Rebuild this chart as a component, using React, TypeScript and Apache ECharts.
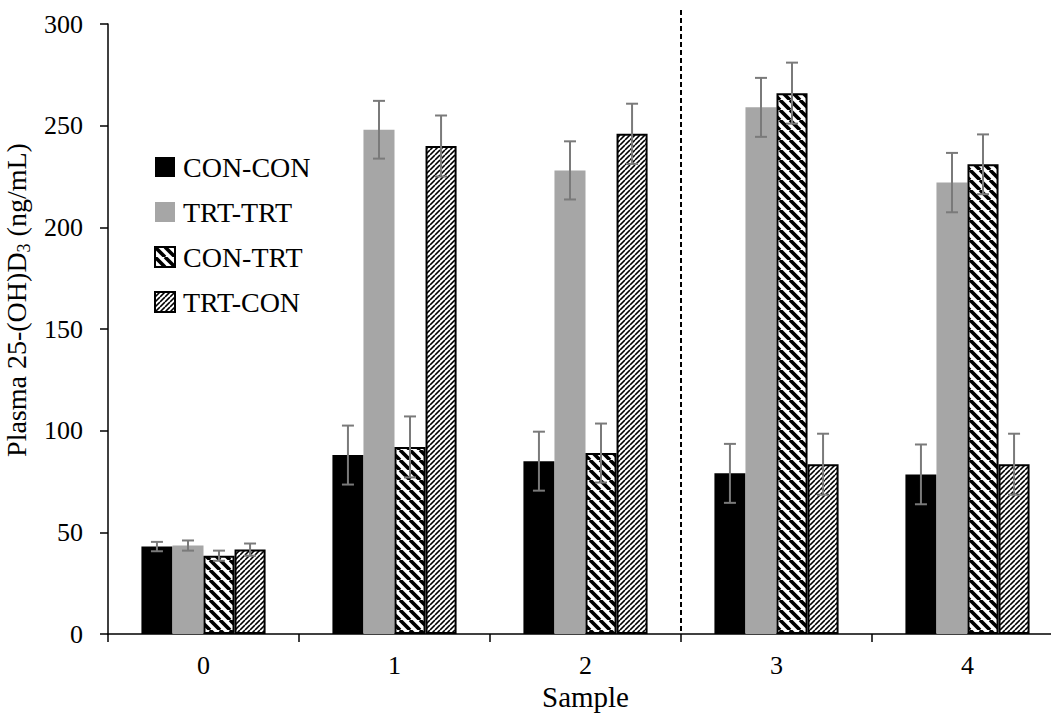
import React, { useEffect, useRef } from 'react';
import * as echarts from 'echarts';

const categories = ['0', '1', '2', '3', '4'];
const seriesNames = ['CON-CON', 'TRT-TRT', 'CON-TRT', 'TRT-CON'];

const conCon = [43, 88, 85, 79, 78.5];
const trtTrt = [43.5, 248, 228, 259, 222];
const conTrt = [38.5, 92, 89, 266, 231];
const trtCon = [41.5, 240, 246, 83.5, 83.5];

const conConErr = [2.3, 14.5, 14.5, 14.5, 14.7];
const trtTrtErr = [2.5, 14.2, 14.3, 14.5, 14.6];
const conTrtErr = [2.5, 15, 14.5, 15, 14.7];
const trtConErr = [3, 15, 14.8, 15, 15];

const yMin = 0;
const yMax = 300;
const yInterval = 50;

const FONT = '"Liberation Serif", "Times New Roman", serif';

function stripePattern(period: number, lineWidth: number, dir: 'back' | 'fwd') {
  const scale = 4;
  const c = document.createElement('canvas');
  c.width = period * scale;
  c.height = period * scale;
  const ctx = c.getContext('2d')!;
  ctx.scale(scale, scale);
  ctx.fillStyle = '#fff';
  ctx.fillRect(0, 0, period, period);
  ctx.strokeStyle = '#000';
  ctx.lineWidth = lineWidth;
  for (const k of [-1, 0, 1]) {
    ctx.beginPath();
    if (dir === 'back') {
      ctx.moveTo(k * period, 0);
      ctx.lineTo(k * period + period, period);
    } else {
      ctx.moveTo(k * period, period);
      ctx.lineTo(k * period + period, 0);
    }
    ctx.stroke();
  }
  return {
    image: c.toDataURL(),
    repeat: 'repeat',
    imageWidth: period,
    imageHeight: period,
  } as any;
}

export default function App() {
  const ref = useRef<HTMLDivElement>(null);

  useEffect(() => {
    if (!ref.current) return;
    const chart = echarts.init(ref.current, null, { renderer: 'svg' });

    const thickStripe = stripePattern(10, 3.6, 'back');
    const thinStripe = stripePattern(5, 1.6, 'fwd');

    const values = [conCon, trtTrt, conTrt, trtCon];
    const errs = [conConErr, trtTrtErr, conTrtErr, trtConErr];
    const styles: any[] = [
      { color: '#000000' },
      { color: '#a6a6a6' },
      { color: thickStripe, borderColor: '#000', borderWidth: 2 },
      { color: thinStripe, borderColor: '#000', borderWidth: 2 },
    ];

    const errData: number[][] = [];
    values.forEach((arr, s) => {
      arr.forEach((v, c) => {
        errData.push([c, v, errs[s][c], s]);
      });
    });

    const gapRatio = 0.35;

    const option: any = {
      animation: false,
      backgroundColor: '#ffffff',
      textStyle: { fontFamily: FONT, color: '#000' },
      grid: { left: 108, top: 24, width: 955, height: 610, containLabel: false, outerBoundsMode: 'none' },
      legend: {
        data: seriesNames,
        orient: 'vertical',
        left: 154,
        top: 153,
        padding: 0,
        itemWidth: 20,
        itemHeight: 20,
        itemGap: 17,
        icon: 'rect',
        textStyle: { fontFamily: FONT, fontSize: 28, color: '#000', lineHeight: 28, padding: [0, 0, 0, 3] },
      },
      xAxis: {
        type: 'category',
        data: categories,
        name: 'Sample',
        nameLocation: 'middle',
        nameGap: 46,
        nameTextStyle: { fontFamily: FONT, fontSize: 29, color: '#000' },
        axisLine: { lineStyle: { color: '#000', width: 1.5 } },
        axisTick: { show: true, length: 8, lineStyle: { color: '#000', width: 1.5 } },
        axisLabel: { fontFamily: FONT, fontSize: 26, color: '#000', margin: 18 },
        splitLine: { show: false },
      },
      yAxis: {
        type: 'value',
        min: yMin,
        max: yMax,
        interval: yInterval,
        name: '{a|Plasma 25-(OH)D}{sub|3}{a| (ng/mL)}',
        nameLocation: 'middle',
        nameGap: 74,
        nameRotate: 90,
        nameTextStyle: {
          fontFamily: FONT,
          color: '#000',
          padding: [0, 0, 0, 58],
          rich: {
            a: { fontFamily: FONT, fontSize: 28, color: '#000', lineHeight: 30 },
            sub: { fontFamily: FONT, fontSize: 18, color: '#000', verticalAlign: 'bottom', lineHeight: 34 },
          },
        },
        axisLine: { show: true, lineStyle: { color: '#000', width: 1.5 } },
        axisTick: { show: true, length: 8, lineStyle: { color: '#000', width: 1.5 } },
        axisLabel: { fontFamily: FONT, fontSize: 26, color: '#000', margin: 25 },
        splitLine: { show: false },
      },
      series: [
        ...seriesNames.map((name, s) => ({
          name,
          type: 'bar',
          data: values[s],
          barGap: '0%',
          barCategoryGap: `${gapRatio * 100}%`,
          itemStyle: styles[s],
          emphasis: { disabled: true },
          z: 2,
        })),
        {
          name: 'err',
          type: 'custom',
          data: errData,
          encode: { x: 0, y: 1 },
          z: 5,
          silent: true,
          renderItem: (params: any, api: any) => {
            const c = api.value(0);
            const v = api.value(1);
            const e = api.value(2);
            const s = api.value(3);
            const band = api.size([1, 0])[0];
            const barW = (band * (1 - gapRatio)) / 4;
            const base = api.coord([c, v]);
            const x = base[0] + (s - 1.5) * barW;
            const yTop = api.coord([c, v + e])[1];
            const yBot = api.coord([c, v - e])[1];
            const cap = 6;
            const st = { stroke: '#7a7a7a', lineWidth: 2, fill: null };
            return {
              type: 'group',
              children: [
                { type: 'line', shape: { x1: x, y1: yTop, x2: x, y2: yBot }, style: st },
                { type: 'line', shape: { x1: x - cap, y1: yTop, x2: x + cap, y2: yTop }, style: st },
                { type: 'line', shape: { x1: x - cap, y1: yBot, x2: x + cap, y2: yBot }, style: st },
              ],
            };
          },
        },
      ],
    };

    chart.setOption(option);

    const px2 = chart.convertToPixel({ xAxisIndex: 0 }, '2') as number;
    const px3 = chart.convertToPixel({ xAxisIndex: 0 }, '3') as number;
    const py0 = chart.convertToPixel({ yAxisIndex: 0 }, 0) as number;
    const xd = (px2 + px3) / 2;
    chart.setOption({
      graphic: [
        {
          type: 'line',
          shape: { x1: xd, y1: 10, x2: xd, y2: py0 },
          style: { stroke: '#000', lineWidth: 2, lineDash: [5, 3] },
          z: 10,
        },
      ],
    });

    return () => chart.dispose();
  }, []);

  return (
    <div
      ref={ref}
      style={{ position: 'fixed', left: 0, top: 0, width: 1100, height: 715, background: '#fff' }}
    />
  );
}
